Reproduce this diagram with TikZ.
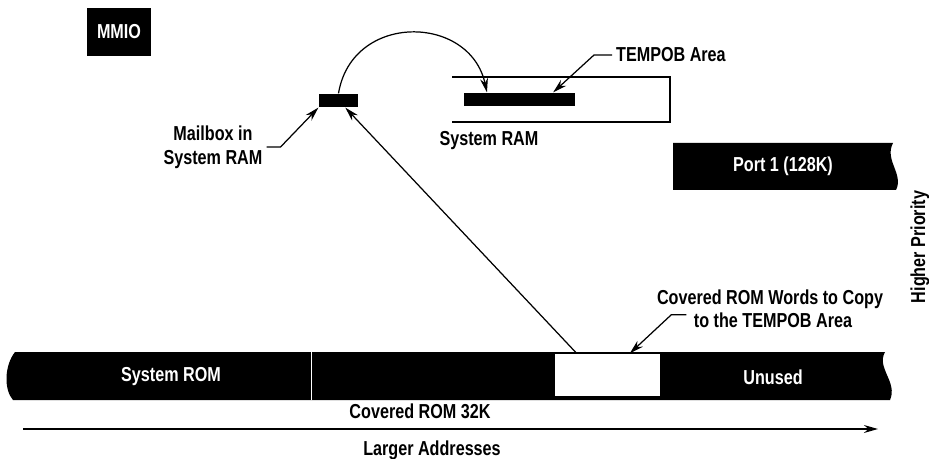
\documentclass[tikz,border=0pt]{standalone}
\usepackage{fontspec}
\newfontfamily\diagfont{Liberation Sans}[FakeStretch=0.8]
\usetikzlibrary{calc,arrows.meta}

\begin{document}
\begin{tikzpicture}[x=0.02cm,y=-0.02cm,line width=0.7pt,
    font=\diagfont\bfseries\fontsize{11.5}{13.5}\selectfont,
    blk/.style={fill=black,text=white,inner sep=0pt},
    lbl/.style={align=center,inner sep=2pt},
    lead/.style={-{Stealth[length=8pt,width=4.5pt]}}]
  \useasboundingbox (0,0) rectangle (929,459);
  % MMIO
  \node[blk,minimum width=1.28cm,minimum height=0.96cm] (mmio) at (119,32){MMIO};
  % system RAM with mailbox and TEMPOB area
  \node[blk,minimum width=0.78cm,minimum height=0.26cm] (mbox) at (338.5,100.5){};
  \node[blk,minimum width=2.22cm,minimum height=0.26cm] (tempob) at (519.5,99.5){};
  \draw (452,77) -- (670,77) -- (670,122) -- (452,122);
  \node[lbl] (ramlbl) at (489,141){System RAM};
  \node[lbl] (mlbl) at (213,147){Mailbox in\\System RAM};
  \node[lbl,anchor=west] (tlbl) at (612,55){TEMPOB Area};
  \draw[lead] (mlbl.east) -- ++(14,0) -- (mbox.south west);
  \draw[lead] (tlbl.west) -- ++(-18,0) -- ($(tempob.north west)!0.8!(tempob.north east)$);
  \draw[lead] (mbox.north) .. controls (352,12) and (470,14)
        .. ($(tempob.north west)!0.21!(tempob.north east)$);
  % port 1
  \fill (673,143) -- (893,143) .. controls (884,160) and (904,174) .. (896,190)
        -- (673,190) -- cycle;
  \node[text=white] (port) at (783,166){Port 1 (128K)};
  % ROM bar
  \fill (15,352) -- (885,352) .. controls (876,368) and (898,382) .. (890,400)
        -- (13,400) .. controls (4,390) and (4,366) .. (15,352) -- cycle;
  \draw[white,line width=0.5pt] (311,352) -- (311,400);
  \node[fill=white,inner sep=0pt,minimum width=2.1cm,minimum height=0.84cm] (rombox) at (607.5,375){};
  \node[text=white] (sysrom) at (171,377){System ROM};
  \node[text=white] (unused) at (773,377){Unused};
  \node (covered) at (420,411){Covered ROM 32K};
  \node[lbl] (cwa) at (770,299){Covered ROM Words to Copy};
  \node[lbl] (cwb) at (773,320){to the TEMPOB Area};
  \draw[lead] ([xshift=-2pt,yshift=3pt]cwb.west) -- ++(-15,0)
        -- ($(rombox.north west)!0.71!(rombox.north east)$);
  \draw[lead] ($(rombox.north west)!0.21!(rombox.north east)$)
        -- ($(mbox.south west)!0.67!(mbox.south east)$);
  % addresses
  \coordinate (axl) at (23,429);
  \coordinate (axr) at (878,429);
  \draw[lead] (axl) -- (axr);
  \node (larger) at (432,450){Larger Addresses};
  \node[rotate=90] (prio) at (920,247){Higher Priority};
\end{tikzpicture}
\end{document}
